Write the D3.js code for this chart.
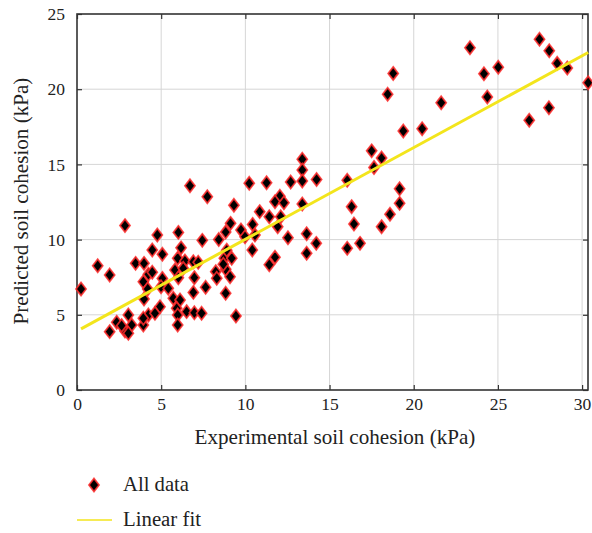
<!DOCTYPE html>
<html>
<head>
<meta charset="utf-8">
<script src="https://cdn.jsdelivr.net/npm/d3@7"></script>
<style>
  html, body { margin: 0; padding: 0; background: #fff; }
  svg { display: block; }
  text { font-family: "Liberation Serif", "DejaVu Serif", serif; fill: #222; }
</style>
</head>
<body>
<svg id="chart" width="592" height="533"></svg>
<script>
// ---- data ----
const experimental = [
  18.78, 18.45, 19.38, 20.5, 21.63, 23.34, 24.17, 25.02, 24.37, 26.86,
  27.47, 28.05, 28.52, 29.12, 28.03, 30.36, 17.5, 18.09, 17.64, 16.05,
  19.16, 19.16, 18.59, 18.09, 16.31, 16.45, 16.05, 16.81,
  11.26, 12.05, 12.69, 13.38, 13.38, 13.38, 14.23, 11.76, 12.29, 13.38,
  10.85, 11.42, 12.1, 11.92, 12.53, 13.64, 14.21, 13.64, 11.76, 11.42,
  6.71, 7.74, 10.23, 9.32, 6.02, 9.12, 8.83, 9.74, 10.43, 7.44,
  8.42, 9.98, 10.57, 2.85, 4.77, 4.47, 5.07, 6.18, 10.41, 1.23,
  1.94, 0.24, 3.48, 3.98, 4.24, 3.94, 4.2, 5.07, 4.99, 3.98,
  4.93, 4.24, 4.63, 3.94, 3.05, 2.36, 3.25, 2.85, 3.05, 1.94,
  5.98, 6.41, 6.91, 7.2, 8.75, 9.19, 5.82, 6.02, 6.97, 8.24,
  8.3, 8.83, 9.09, 5.42, 5.72, 6.12, 6.91, 7.64, 8.83, 5.92,
  5.98, 6.51, 6.97, 7.4, 5.98, 9.44, 8.89, 8.69, 6.31, 4.47,
  3.94, 2.65
];
const predicted = [
  21.05, 19.66, 17.22, 17.37, 19.1, 22.76, 21.03, 21.46, 19.48, 17.93,
  23.32, 22.56, 21.72, 21.41, 18.77, 20.43, 15.9, 15.42, 14.8, 13.94,
  13.38, 12.41, 11.68, 10.86, 12.19, 11.04, 9.42, 9.75,
  13.78, 12.88, 13.83, 15.34, 14.63, 13.9, 14.0, 12.52, 12.45, 12.37,
  11.86, 11.52, 11.52, 10.86, 10.12, 10.39, 9.75, 9.09, 8.83, 8.33,
  13.58, 12.85, 13.74, 12.28, 10.48, 11.08, 10.5, 10.64, 11.01, 9.95,
  10.0, 10.19, 10.3, 10.93, 10.31, 9.31, 9.02, 9.45, 9.31, 8.26,
  7.65, 6.72, 8.42, 8.42, 7.69, 7.2, 6.72, 7.42, 6.87, 6.05,
  5.54, 4.99, 5.1, 4.32, 4.99, 4.5, 4.32, 3.92, 3.77, 3.88,
  8.76, 8.58, 8.53, 8.49, 8.76, 8.76, 7.98, 7.47, 7.47, 7.87,
  7.43, 8.03, 7.53, 6.76, 6.1, 5.98, 6.49, 6.83, 6.43, 5.43,
  4.99, 5.21, 5.14, 5.1, 4.32, 4.92, 9.3, 8.36, 8.09, 7.83,
  4.77, 4.28
];
const fitIntercept = 3.92;
const fitSlope = 0.61;
const xTicks = [0, 5, 10, 15, 20, 25, 30];
const yTicks = [0, 5, 10, 15, 20, 25];
const xLabel = "Experimental soil cohesion (kPa)";
const yLabel = "Predicted soil cohesion (kPa)";
const legendLabels = ["All data", "Linear fit"];

// ---- layout ----
const svg = d3.select("#chart");
const mLeft = 77, mRight = 588, mTop = 14, mBottom = 390;
const x = d3.scaleLinear().domain([0, 30.35]).range([mLeft, mRight]);
const y = d3.scaleLinear().domain([0, 25]).range([mBottom, mTop]);

const frameColor = "#333";
const gridColor = "#d6d6d6";
const fitColor = "#f3e51c";

// fit a text element's font size so that it spans a target width
function fitWidth(sel, target) {
  const node = sel.node();
  const base = parseFloat(sel.attr("font-size"));
  const w = node.getComputedTextLength();
  if (w > 0) sel.attr("font-size", (base * target / w).toFixed(2) + "px");
  return sel;
}

// grid
svg.append("g").selectAll("line").data(xTicks.filter(d => d > 0))
  .join("line")
  .attr("x1", d => x(d)).attr("x2", d => x(d))
  .attr("y1", mTop).attr("y2", mBottom)
  .attr("stroke", gridColor).attr("stroke-width", 1);
svg.append("g").selectAll("line").data(yTicks.filter(d => d > 0 && d < 25))
  .join("line")
  .attr("x1", mLeft).attr("x2", mRight)
  .attr("y1", d => y(d)).attr("y2", d => y(d))
  .attr("stroke", gridColor).attr("stroke-width", 1);

// axes (inward ticks)
const tickFont = "17.5px";
const gx = svg.append("g").attr("transform", `translate(0,${mBottom})`)
  .call(d3.axisBottom(x).tickValues(xTicks).tickSizeInner(-5).tickSizeOuter(0).tickPadding(8));
const gy = svg.append("g").attr("transform", `translate(${mLeft},0)`)
  .call(d3.axisLeft(y).tickValues(yTicks).tickSizeInner(-5).tickSizeOuter(0).tickPadding(12));
const gxt = svg.append("g").attr("transform", `translate(0,${mTop})`)
  .call(d3.axisTop(x).tickValues(xTicks).tickSizeInner(-5).tickSizeOuter(0).tickFormat(""));
const gyr = svg.append("g").attr("transform", `translate(${mRight},0)`)
  .call(d3.axisRight(y).tickValues(yTicks).tickSizeInner(-5).tickSizeOuter(0).tickFormat(""));
[gx, gy, gxt, gyr].forEach(g => {
  g.select(".domain").remove();
  g.selectAll(".tick line").attr("stroke", frameColor).attr("stroke-width", 1.2);
  g.selectAll(".tick text").attr("font-family", "Liberation Serif, serif")
    .attr("font-size", tickFont).attr("fill", "#222");
});

// frame
svg.append("rect").attr("x", mLeft).attr("y", mTop)
  .attr("width", mRight - mLeft).attr("height", mBottom - mTop)
  .attr("fill", "none").attr("stroke", frameColor).attr("stroke-width", 1.6);

// scatter
const diamond = (cx, cy, w, h) => `M${cx},${cy - h}L${cx + w},${cy}L${cx},${cy + h}L${cx - w},${cy}Z`;
const pts = experimental.map((d, i) => ({ x: d, y: predicted[i] }));
svg.append("g").selectAll("path").data(pts).join("path")
  .attr("d", d => diamond(x(d.x), y(d.y), 5, 6.5))
  .attr("fill", "#000")
  .attr("stroke", "#ff2a2a").attr("stroke-width", 1.8).attr("stroke-opacity", 0.85)
  .attr("stroke-linejoin", "miter");

// linear fit
const xMin = d3.min(experimental), xMax = d3.max(experimental);
svg.append("line")
  .attr("x1", x(xMin)).attr("y1", y(fitIntercept + fitSlope * xMin))
  .attr("x2", x(xMax)).attr("y2", y(fitIntercept + fitSlope * xMax))
  .attr("stroke", fitColor).attr("stroke-width", 3);

// axis titles
fitWidth(svg.append("text").attr("x", 335).attr("y", 444)
  .attr("text-anchor", "middle").attr("font-size", "18px").text(xLabel), 281);
fitWidth(svg.append("text").attr("transform", `translate(28,201) rotate(-90)`)
  .attr("text-anchor", "middle").attr("font-size", "18px").text(yLabel), 247);

// legend
svg.append("path").attr("d", diamond(94, 485, 5, 6.5))
  .attr("fill", "#000").attr("stroke", "#ff2a2a").attr("stroke-width", 1.8).attr("stroke-opacity", 0.85);
fitWidth(svg.append("text").attr("x", 123).attr("y", 491).attr("font-size", "18px").text(legendLabels[0]), 66);
svg.append("line").attr("x1", 77).attr("x2", 112).attr("y1", 520).attr("y2", 520)
  .attr("stroke", fitColor).attr("stroke-width", 1.6);
fitWidth(svg.append("text").attr("x", 123).attr("y", 526).attr("font-size", "18px").text(legendLabels[1]), 78);
</script>
</body>
</html>
